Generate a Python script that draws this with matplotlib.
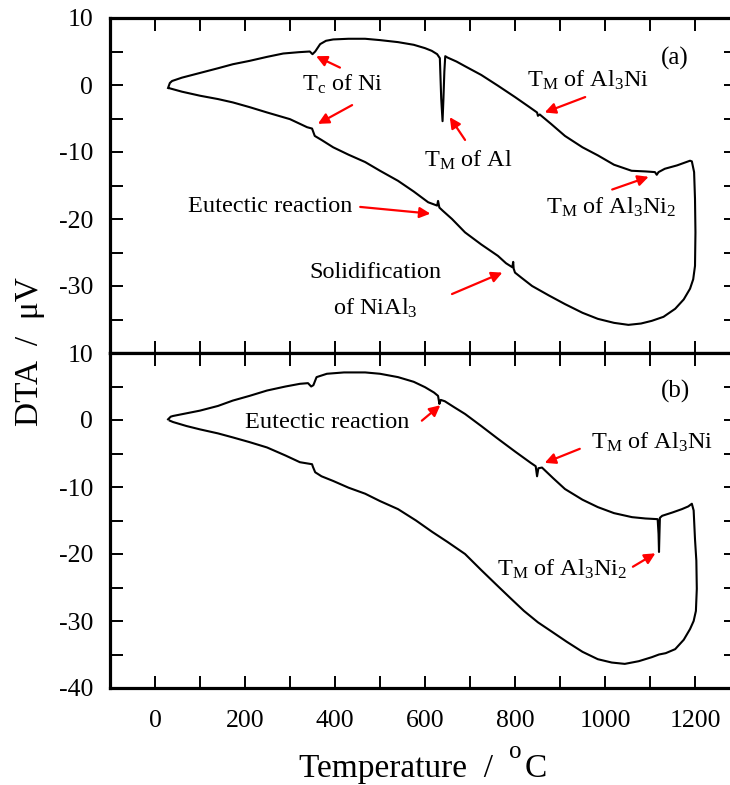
import matplotlib
matplotlib.use("Agg")
import matplotlib.pyplot as plt
from matplotlib.ticker import MultipleLocator

plt.rcParams['font.family'] = ['Liberation Serif', 'DejaVu Serif']
plt.rcParams['mathtext.fontset'] = 'custom'
plt.rcParams['mathtext.rm'] = 'Liberation Serif'
plt.rcParams['mathtext.it'] = 'Liberation Serif:italic'
plt.rcParams['axes.unicode_minus'] = False

# ---- data: panel (a) heating + cooling loop ----
temp_a = [29, 33, 38, 60, 100, 140, 173, 210, 249, 285, 320, 344, 350, 356, 367, 380, 396, 430, 467,
          500, 540, 575, 600, 615, 627, 633, 636, 639, 641, 643, 645, 650, 670, 689, 725, 762, 800,
          830, 849, 851, 855, 880, 911, 950, 984, 1020, 1059, 1090, 1111, 1115, 1119, 1133, 1160,
          1189, 1193, 1198, 1200, 1201, 1200, 1196, 1189, 1175, 1156, 1130, 1104, 1080, 1052, 1020,
          984, 950, 911, 875, 838, 815, 800, 797, 796, 794, 780, 762, 725, 689, 660, 640, 632, 629,
          627, 607, 575, 540, 500, 467, 430, 396, 370, 355, 349, 338, 300, 249, 210, 173, 140, 100,
          60, 33]
dta_a = [-0.45, 0.3, 0.6, 1.1, 1.8, 2.5, 3.1, 3.6, 4.2, 4.7, 4.9, 5.0, 4.6, 5.0, 6.1, 6.6, 6.8, 6.9, 6.9,
         6.7, 6.4, 6.0, 5.5, 5.1, 4.6, 4.0, -2.0, -5.4, -2.0, 2.0, 4.3, 4.1, 3.5, 2.8, 1.5, -0.1, -1.8,
         -3.2, -4.1, -4.6, -4.4, -5.8, -7.6, -9.3, -10.5, -11.9, -12.8, -12.9, -13.0, -13.4, -13.0, -12.5, -12.0,
         -11.3, -11.4, -13.0, -17.0, -22.0, -27.0, -29.0, -30.4, -32.0, -33.4, -34.6, -35.2, -35.6, -35.8, -35.5,
         -34.9, -34.0, -32.7, -31.4, -30.0, -28.8, -28.0, -27.4, -26.4, -27.2, -26.6, -25.5, -23.8, -22.0, -20.0, -18.8, -18.3, -17.3,
         -18.0, -17.5, -15.9, -14.3, -12.8, -11.5, -10.4, -9.3, -8.2, -7.6, -6.5, -6.3, -5.1, -4.1, -3.3, -2.6, -2.1, -1.6,
         -1.0, -0.5]

# ---- data: panel (b) heating + cooling loop ----
temp_b = [29, 35, 40, 70, 100, 140, 173, 210, 249, 290, 322, 340, 347, 352, 359, 382, 420, 467,
          500, 540, 575, 600, 620, 629, 632, 635, 644, 665, 689, 725, 762, 800, 835, 846, 849, 852,
          860, 885, 911, 950, 984, 1020, 1060, 1090, 1117, 1119, 1120, 1121, 1122, 1127, 1150, 1171,
          1185, 1193, 1197, 1200, 1203, 1204, 1202, 1197, 1189, 1175, 1156, 1135, 1120, 1104, 1075,
          1044, 1015, 984, 950, 915, 882, 851, 820, 790, 762, 725, 689, 650, 616, 580, 540, 500, 467,
          430, 396, 370, 356, 351, 349, 322, 290, 249, 210, 173, 140, 100, 70, 40, 33]
dta_b = [0.1, 0.5, 0.6, 1.0, 1.4, 2.1, 2.9, 3.6, 4.4, 5.0, 5.4, 5.5, 5.0, 5.2, 6.4, 6.9, 7.1, 7.1,
         6.9, 6.4, 5.7, 4.9, 4.1, 3.6, 2.4, 3.0, 2.8, 1.9, 0.9, -0.9, -2.8, -4.7, -6.4, -6.9, -8.4, -7.2,
         -7.1, -8.7, -10.3, -11.9, -13.0, -13.9, -14.5, -14.7, -14.8, -17.0, -19.7, -17.0, -14.6, -14.3, -13.8, -13.3,
         -12.9, -12.5, -13.5, -17.8, -21.0, -25.2, -28.5, -30.0, -31.2, -32.8, -34.2, -34.8, -35.0, -35.4, -36.0,
         -36.4, -36.2, -35.7, -34.6, -33.1, -31.6, -30.2, -28.5, -26.6, -24.8, -22.4, -20.0, -18.2, -16.7, -15.0, -13.3, -12.1, -11.0,
         -10.1, -9.1, -8.4, -7.8, -7.0, -6.6, -6.3, -5.3, -4.1, -3.3, -2.6, -2.0, -1.4, -0.9, -0.3, -0.1]

x_major = [0, 200, 400, 600, 800, 1000, 1200]
y_major = [10, 0, -10, -20, -30, -40]

fig = plt.figure(figsize=(7.3, 7.85), dpi=100)
W, H = 730.0, 785.0
left_px, right_px = 110.0, 735.5
ax_a = fig.add_axes([left_px / W, (H - 353) / H, (right_px - left_px) / W, 335 / H])
ax_b = fig.add_axes([left_px / W, (H - 688) / H, (right_px - left_px) / W, 335 / H])

for ax in (ax_a, ax_b):
    ax.set_xlim(-100, 1290)
    ax.set_ylim(-40, 10)
    ax.xaxis.set_major_locator(MultipleLocator(200))
    ax.xaxis.set_minor_locator(MultipleLocator(100))
    ax.set_yticks(y_major)
    ax.yaxis.set_minor_locator(MultipleLocator(5))
    ax.tick_params(which='both', direction='in', top=True, right=True, width=1.4, length=9,
                   labelsize=18.5)
    ax.tick_params(axis='y', pad=12)
    ax.tick_params(axis='x', pad=16)
    for s in ax.spines.values():
        s.set_linewidth(2.3)

ax_a.plot(temp_a, dta_a, color='black', lw=1.5)
ax_b.plot(temp_b, dta_b, color='black', lw=1.5)

ax_a.set_yticklabels(['10', '0', '-10', '-20', '-30', ''])
ax_b.set_yticklabels(['10', '0', '-10', '-20', '-30', '-40'])
ax_a.tick_params(labelbottom=False)
ax_b.set_xticks(x_major)
ax_b.set_xticklabels([str(v) for v in x_major])

arrow_kw = dict(arrowstyle='-|>', color='red', lw=1.6, mutation_scale=16, shrinkA=0, shrinkB=0)
fs = 17.5

def arrow(ax, tail, head):
    ax.annotate('', xy=head, xytext=tail, arrowprops=arrow_kw)

# panel (a) annotations
ax_a.text(416, 0.1, r'T$_{\rm c}$ of Ni', fontsize=fs, ha='center', va='center')
arrow(ax_a, (411, 2.6), (358, 4.3))
arrow(ax_a, (438, -3.0), (362, -5.8))
ax_a.text(696, -11.2, r'T$_{\rm M}$ of Al', fontsize=fs, ha='center', va='center')
arrow(ax_a, (689, -8.2), (655, -4.8))
ax_a.text(962, 0.7, r'T$_{\rm M}$ of Al$_3$Ni', fontsize=fs, ha='center', va='center')
arrow(ax_a, (956, -1.8), (866, -4.1))
ax_a.text(1013, -18.3, r'T$_{\rm M}$ of Al$_3$Ni$_2$', fontsize=fs, ha='center', va='center')
arrow(ax_a, (1016, -15.6), (1097, -13.7))
ax_a.text(256, -18.2, 'Eutectic reaction', fontsize=fs, ha='center', va='center')
arrow(ax_a, (456, -18.2), (612, -19.2))
ax_a.text(489, -28.0, 'Solidification', fontsize=fs, ha='center', va='center')
ax_a.text(489, -33.3, r'of NiAl$_3$', fontsize=fs, ha='center', va='center')
arrow(ax_a, (660, -31.2), (772, -28.0))
ax_a.text(1156, 3.9, '(a)', fontsize=18, ha='center', va='center')

# panel (b) annotations
ax_b.text(382, -0.3, 'Eutectic reaction', fontsize=fs, ha='center', va='center')
arrow(ax_b, (593, -0.1), (634, 2.2))
ax_b.text(1104, -3.4, r'T$_{\rm M}$ of Al$_3$Ni', fontsize=fs, ha='center', va='center')
arrow(ax_b, (944, -4.3), (866, -6.4))
ax_b.text(904, -22.3, r'T$_{\rm M}$ of Al$_3$Ni$_2$', fontsize=fs, ha='center', va='center')
arrow(ax_b, (1062, -21.9), (1112, -19.9))
ax_b.text(1156, 4.2, '(b)', fontsize=18, ha='center', va='center')

fig.text(30 / W, 1 - 352 / H, 'DTA  /  μV', rotation=90, fontsize=24, ha='center', va='center')
# x label assembled: "Temperature / " + raised "o" + "C"
base_y = (H - 777) / H
fig.text(299 / W, base_y, 'Temperature  /', fontsize=24, ha='left', va='baseline')
fig.text(509 / W, (H - 758) / H, 'o', fontsize=18, ha='left', va='baseline')
fig.text(525 / W, base_y, 'C', fontsize=24, ha='left', va='baseline')

fig.savefig('out.png', dpi=100)
